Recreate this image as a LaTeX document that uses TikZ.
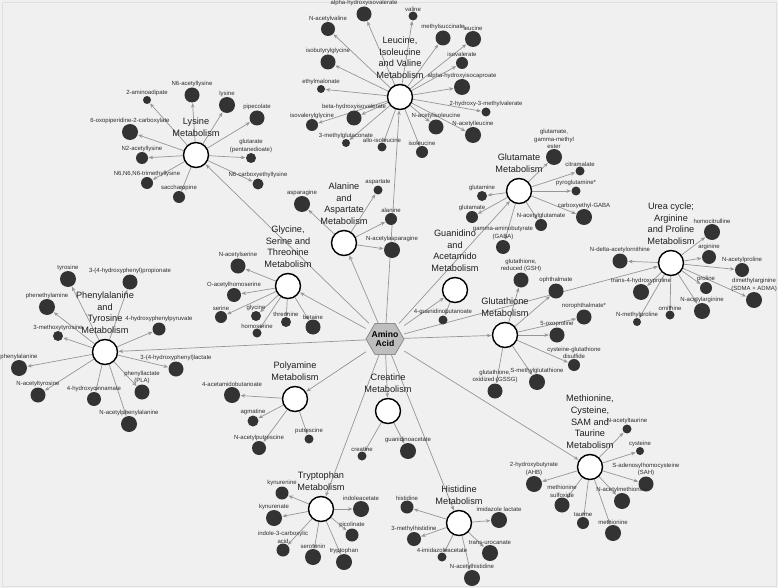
\documentclass[tikz,border=0pt]{standalone}
\usepackage{fontspec}
\setmainfont{Liberation Sans}
\usetikzlibrary{arrows.meta}
\definecolor{bgc}{HTML}{F0F0F0}
\definecolor{edgec}{HTML}{969696}
\definecolor{metfill}{HTML}{333333}
\definecolor{txtc}{HTML}{2E2E2E}
\definecolor{hubfill}{HTML}{BEBEBE}
\pgfdeclarelayer{bglayer}
\pgfsetlayers{bglayer,main}
\tikzset{
  pw/.style={circle, draw=black, line width=1.4pt, fill=white, minimum size=25pt, inner sep=0pt},
  pwlbl/.style={font=\fontsize{9.2}{11.7}\selectfont, align=center, inner sep=0pt, text=black!88, label distance=5pt},
  mcirc/.style={circle, fill=metfill, inner sep=0pt},
  mlbl/.style={font=\fontsize{6}{7.4}\selectfont, align=center, inner sep=0pt, text=txtc},
  link/.style={draw=edgec, line width=0.7pt, -{Stealth[length=4.5pt,width=3.6pt]}, shorten >=0.4pt},
  hubhex/.style={fill=hubfill, draw=black!45, line width=0.8pt},
  hubtxt/.style={rectangle, minimum width=38pt, minimum height=31pt, inner sep=0pt, align=center, font=\fontsize{8.6}{9.6}\selectfont\bfseries},
}
\newcommand\mnode[4]{\node[mcirc, minimum size=#3pt, label={[mlbl]above:{#4}}] (#1) at (#2) {};}
\newcommand\pnode[3]{\node[pw, label={[pwlbl]above:{#3}}] (#1) at (#2) {};}
\begin{document}
\begin{tikzpicture}[x=1pt,y=-1pt]
\begin{pgfonlayer}{bglayer}
\path[use as bounding box, fill=bgc] (0,0) rectangle (778,588);
\draw[black!12, line width=0.8pt] (2,2) rectangle (776,586);
\end{pgfonlayer}

% hub
\coordinate (hubc) at (385,339);
\filldraw[hubhex] (hubc) ++(-19,0) -- ++(9,-15.5) -- ++(20,0) -- ++(9,15.5) -- ++(-9,15.5) -- ++(-20,0) -- cycle;
\node[hubtxt] (hub) at (hubc) {Amino\\Acid};

% pathways
\pnode{leu}{400,97}{Leucine,\\Isoleucine\\and Valine\\Metabolism}
\pnode{lys}{196,155}{Lysine\\Metabolism}
\pnode{glu}{519,191}{Glutamate\\Metabolism}
\pnode{urea}{671,263}{Urea cycle;\\Arginine\\and Proline\\Metabolism}
\pnode{phe}{105,352}{Phenylalanine\\and\\Tyrosine\\Metabolism}
\pnode{gly}{288,286}{Glycine,\\Serine and\\Threonine\\Metabolism}
\pnode{ala}{344,243}{Alanine\\and\\Aspartate\\Metabolism}
\pnode{gua}{455,290}{Guanidino\\and\\Acetamido\\Metabolism}
\pnode{gsh}{505,335}{Glutathione\\Metabolism}
\pnode{poly}{295,399}{Polyamine\\Metabolism}
\pnode{cre}{388,411}{Creatine\\Metabolism}
\pnode{trp}{321,509}{Tryptophan\\Metabolism}
\pnode{his}{459,523}{Histidine\\Metabolism}
\pnode{met}{590,467}{Methionine,\\Cysteine,\\SAM and\\Taurine\\Metabolism}

% Leucine group
\mnode{ahiv}{364,14}{15}{alpha-hydroxyisovalerate}
\mnode{val}{413,16}{9}{valine}
\mnode{nav}{328,29}{14}{N-acetylvaline}
\mnode{msuc}{443,38}{15}{methylsuccinate}
\mnode{leuc}{473,39}{16}{leucine}
\mnode{ibg}{328,62}{15}{isobutyrylglycine}
\mnode{ival}{462,63}{12}{isovalerate}
\mnode{emal}{321,89}{8}{ethylmalonate}
\mnode{ahic}{462,87}{16}{alpha-hydroxyisocaproate}
\mnode{hmv}{486,112}{9}{2-hydroxy-3-methylvalerate}
\mnode{bhiv}{354,118}{15}{beta-hydroxyisovalerate}
\mnode{ivg}{312,125}{12}{isovalerylglycine}
\mnode{nail}{436,127}{15}{N-acetylisoleucine}
\mnode{nal}{473,135}{16}{N-acetylleucine}
\mnode{mglu}{346,143}{8}{3-methylglutaconate}
\mnode{aile}{382,147}{9}{allo-isoleucine}
\mnode{ile}{422,152}{12}{isoleucine}

% Lysine group
\mnode{nsal}{192,95}{15}{N6-acetyllysine}
\mnode{aad}{147,100}{8}{2-aminoadipate}
\mnode{lysm}{227,105}{16}{lysine}
\mnode{pip}{257,118}{15}{pipecolate}
\mnode{oxo}{130,132}{16}{6-oxopiperidine-2-carboxylate}
\mnode{ntal}{142,158}{12}{N2-acetyllysine}
\mnode{glut}{251,158}{10}{glutarate\\(pentanedioate)}
\mnode{tml}{147,183}{12}{N6,N6,N6-trimethyllysine}
\mnode{cel}{258,184}{11}{N6-carboxyethyllysine}
\mnode{sac}{179,197}{12}{saccharopine}

% Glutamate group
\mnode{gme}{554,157}{16}{glutamate,\\gamma-methyl\\ester}
\mnode{citr}{580,171}{9}{citramalate}
\mnode{gln}{482,196}{10}{glutamine}
\mnode{pgln}{576,191}{9}{pyroglutamine*}
\mnode{glum}{472,217}{12}{glutamate}
\mnode{cegaba}{584,217}{16}{carboxyethyl-GABA}
\mnode{nag}{541,225}{12}{N-acetylglutamate}
\mnode{gaba}{503,247}{14}{gamma-aminobutyrate\\(GABA)}

% Urea group
\mnode{hcit}{712,232}{16}{homocitrulline}
\mnode{arg}{709,257}{14}{arginine}
\mnode{ndao}{620,261}{15}{N-delta-acetylornithine}
\mnode{napro}{742,270}{14}{N-acetylproline}
\mnode{thp}{641,292}{16}{trans-4-hydroxyproline}
\mnode{pro}{706,288}{12}{proline}
\mnode{dma}{754,300}{16}{dimethylarginine\\(SDMA + ADMA)}
\mnode{orn}{670,315}{9}{ornithine}
\mnode{naarg}{702,311}{16}{N-acetylarginine}
\mnode{nmp}{637,322}{8}{N-methylproline}

% Phenylalanine group
\mnode{tyr}{68,279}{16}{tyrosine}
\mnode{hpp}{130,282}{15}{3-(4-hydroxyphenyl)propionate}
\mnode{peth}{47,307}{16}{phenethylamine}
\mnode{mtyr}{58,336}{10}{3-methoxytyrosine}
\mnode{hppyr}{159,329}{13}{4-hydroxyphenylpyruvate}
\mnode{phea}{19,368}{16}{phenylalanine}
\mnode{hpl}{176,369}{15}{3-(4-hydroxyphenyl)lactate}
\mnode{pla}{142,392}{15}{phenyllactate\\(PLA)}
\mnode{natyr}{38,395}{15}{N-acetyltyrosine}
\mnode{hcin}{94,399}{14}{4-hydroxycinnamate}
\mnode{naphe}{129,424}{16}{N-acetylphenylalanine}

% Glycine group
\mnode{nas}{238,266}{15}{N-acetylserine}
\mnode{oah}{234,295}{14}{O-acetylhomoserine}
\mnode{ser}{221,317}{12}{serine}
\mnode{glyc}{256,316}{10}{glycine}
\mnode{hser}{257,333}{9}{homoserine}
\mnode{thr}{286,322}{10}{threonine}
\mnode{bet}{313,327}{15}{betaine}

% Alanine group
\mnode{asp}{378,190}{9}{aspartate}
\mnode{asn}{302,204}{16}{asparagine}
\mnode{alan}{391,219}{12}{alanine}
\mnode{naasn}{392,250}{16}{N-acetylasparagine}

% Guanidino group
\mnode{gbut}{443,320}{9}{4-guanidinobutanoate}

% Glutathione group
\mnode{gshr}{521,280}{15}{glutathione,\\reduced (GSH)}
\mnode{oph}{556,291}{15}{ophthalmate}
\mnode{noph}{584,317}{15}{norophthalmate*}
\mnode{oxp}{557,335}{15}{5-oxoproline}
\mnode{cgd}{574,365}{12}{cysteine-glutathione\\disulfide}
\mnode{smg}{537,382}{16}{S-methylglutathione}
\mnode{gssg}{495,391}{15}{glutathione,\\oxidized (GSSG)}

% Polyamine group
\mnode{aab}{232,395}{16}{4-acetamidobutanoate}
\mnode{agm}{253,421}{11}{agmatine}
\mnode{put}{309,439}{9}{putrescine}
\mnode{nap}{259,448}{14}{N-acetylputrescine}

% Creatine group
\mnode{crt}{362,456}{9}{creatine}
\mnode{gaa}{408,451}{16}{guanidinoacetate}

% Tryptophan group
\mnode{kyn}{282,493}{13}{kynurenine}
\mnode{iac}{361,509}{16}{indoleacetate}
\mnode{kyna}{274,518}{16}{kynurenate}
\mnode{pic}{352,535}{13}{picolinate}
\mnode{icx}{283,550}{13}{indole-3-carboxylic\\acid}
\mnode{srt}{313,557}{16}{serotonin}
\mnode{trpm}{344,562}{16}{tryptophan}

% Histidine group
\mnode{hism}{407,507}{13}{histidine}
\mnode{iml}{499,520}{16}{imidazole lactate}
\mnode{mhis}{414,539}{14}{3-methylhistidine}
\mnode{uro}{490,553}{16}{trans-urocanate}
\mnode{iaa}{442,557}{9}{4-imidazoleacetate}
\mnode{nahis}{472,578}{16}{N-acetylhistidine}

% Methionine group
\mnode{natau}{627,429}{9}{N-acetyltaurine}
\mnode{cys}{640,451}{8}{cysteine}
\mnode{ahb}{534,484}{16}{2-hydroxybutyrate\\(AHB)}
\mnode{sah}{646,484}{15}{S-adenosylhomocysteine\\(SAH)}
\mnode{mso}{562,505}{15}{methionine\\sulfoxide}
\mnode{nam}{622,501}{16}{N-acetylmethionine}
\mnode{tau}{583,523}{12}{taurine}
\mnode{meth}{613,533}{16}{methionine}

\begin{pgfonlayer}{bglayer}
\foreach \x in {leu,lys,glu,urea,phe,gly,ala,gua,gsh,poly,cre,trp,his,met} \draw[link] (hub) -- (\x);
\foreach \x in {ahiv,val,nav,msuc,leuc,ibg,ival,emal,ahic,hmv,bhiv,ivg,nail,nal,mglu,aile,ile} \draw[link] (leu) -- (\x);
\foreach \x in {nsal,aad,lysm,pip,oxo,ntal,glut,tml,cel,sac} \draw[link] (lys) -- (\x);
\foreach \x in {gme,citr,gln,pgln,glum,cegaba,nag,gaba} \draw[link] (glu) -- (\x);
\foreach \x in {hcit,arg,ndao,napro,thp,pro,dma,orn,naarg,nmp} \draw[link] (urea) -- (\x);
\foreach \x in {tyr,hpp,peth,mtyr,hppyr,phea,hpl,pla,natyr,hcin,naphe} \draw[link] (phe) -- (\x);
\foreach \x in {nas,oah,ser,glyc,hser,thr,bet} \draw[link] (gly) -- (\x);
\foreach \x in {asp,asn,alan,naasn} \draw[link] (ala) -- (\x);
\draw[link] (gua) -- (gbut);
\foreach \x in {gshr,oph,noph,oxp,cgd,smg,gssg} \draw[link] (gsh) -- (\x);
\foreach \x in {aab,agm,put,nap} \draw[link] (poly) -- (\x);
\foreach \x in {crt,gaa} \draw[link] (cre) -- (\x);
\foreach \x in {kyn,iac,kyna,pic,icx,srt,trpm} \draw[link] (trp) -- (\x);
\foreach \x in {hism,iml,mhis,uro,iaa,nahis} \draw[link] (his) -- (\x);
\foreach \x in {natau,cys,ahb,sah,mso,nam,tau,meth} \draw[link] (met) -- (\x);
\end{pgfonlayer}
\end{tikzpicture}
\end{document}
